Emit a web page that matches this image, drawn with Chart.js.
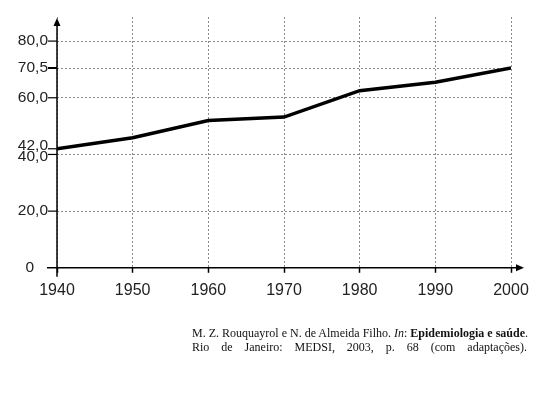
<!DOCTYPE html>
<html>
<head>
<meta charset="utf-8">
<script src="https://cdn.jsdelivr.net/npm/chart.js@4.4.0/dist/chart.umd.min.js"></script>
<style>
  html, body { margin: 0; padding: 0; background: #fff; }
  #wrap { position: relative; width: 535px; height: 416px; }
  canvas { display: block; }
  .ref {
    position: absolute; left: 192px; width: 335px;
    font-family: "Liberation Serif", "DejaVu Serif", serif;
    font-size: 12px; color: #111; line-height: 13px;
    text-align: justify; text-align-last: justify; white-space: nowrap;
  }
</style>
</head>
<body>
<div id="wrap">
  <canvas id="chart" width="535" height="416"></canvas>
  <div class="ref" style="top:327px">M. Z. Rouquayrol e N. de Almeida Filho. <i>In</i>: <b>Epidemiologia e saúde</b>.</div>
  <div class="ref" style="top:341px">Rio de Janeiro: MEDSI, 2003, p. 68 (com adaptações).</div>
</div>
<script>
// Chart data
const years = [1940, 1950, 1960, 1970, 1980, 1990, 2000];
const values = [42.0, 45.9, 52.0, 53.2, 62.5, 65.5, 70.5];
const yTicks = [0, 20, 40, 42, 60, 70.5, 80];
const yTickLabels = ['0', '20,0', '40,0', '42,0', '60,0', '70,5', '80,0'];

const FONT = '"Liberation Sans", Arial, sans-serif';

// Axis lines, arrows and y labels drawn on top of the chart area
const axesPlugin = {
    id: 'axesPlugin',
    afterDraw(chart) {
        const ctx = chart.ctx;
        const x = chart.scales.x;
        const y = chart.scales.y;
        const x0 = x.getPixelForValue(1940);
        const y0 = y.getPixelForValue(0);
        const top = chart.chartArea.top;
        ctx.save();
        ctx.strokeStyle = '#000';
        ctx.fillStyle = '#000';
        ctx.lineWidth = 1.5;

        // y axis
        ctx.beginPath();
        ctx.moveTo(x0, y0 + 9);
        ctx.lineTo(x0, top + 8);
        ctx.stroke();
        ctx.beginPath();
        ctx.moveTo(x0, top + 1);
        ctx.lineTo(x0 - 3.5, top + 9);
        ctx.lineTo(x0 + 3.5, top + 9);
        ctx.closePath();
        ctx.fill();

        // x axis
        const xr = chart.chartArea.right;
        ctx.beginPath();
        ctx.moveTo(x0 - 10, y0);
        ctx.lineTo(xr + 6, y0);
        ctx.stroke();
        ctx.beginPath();
        ctx.moveTo(xr + 13, y0);
        ctx.lineTo(xr + 5, y0 - 3.5);
        ctx.lineTo(xr + 5, y0 + 3.5);
        ctx.closePath();
        ctx.fill();

        // y tick marks and labels
        ctx.font = '15.5px ' + FONT;
        ctx.textAlign = 'right';
        ctx.textBaseline = 'middle';
        yTicks.forEach((v, i) => {
            const py = y.getPixelForValue(v);
            let lx = x0 - 9;
            if (v !== 0) {
                ctx.lineWidth = v === 70.5 ? 2 : 1.2;
                ctx.beginPath();
                ctx.moveTo(x0 - 9, py);
                ctx.lineTo(x0, py);
                ctx.stroke();
            } else {
                lx = x0 - 23;
            }
            let off = 0;
            if (v === 42) off = -3;
            if (v === 40) off = 2.5;
            ctx.fillStyle = '#222';
            ctx.fillText(yTickLabels[i], lx, py + off);
        });
        ctx.restore();
    }
};

new Chart(document.getElementById('chart'), {
    type: 'line',
    data: {
        datasets: [{
            data: years.map((yr, i) => ({ x: yr, y: values[i] })),
            borderColor: '#000',
            borderWidth: 3.5,
            pointRadius: 0,
            tension: 0,
            fill: false
        }]
    },
    options: {
        responsive: false,
        animation: false,
        layout: { padding: { left: 57, top: 17, right: 24, bottom: 108 } },
        plugins: { legend: { display: false }, tooltip: { enabled: false } },
        scales: {
            x: {
                type: 'linear',
                min: 1940,
                max: 2000,
                afterFit: axis => {
                    axis.paddingLeft = 0;
                    axis.paddingRight = 0;
                },
                border: { display: false, dash: [2, 2] },
                grid: {
                    color: '#8a8a8a',
                    lineWidth: 1,
                    drawTicks: true,
                    tickLength: 5,
                    tickColor: '#000',
                    tickBorderDash: [],
                    tickWidth: 1.5
                },
                ticks: {
                    stepSize: 10,
                    padding: 8,
                    color: '#222',
                    maxRotation: 0,
                    font: { family: FONT, size: 16 },
                    callback: v => String(v)
                }
            },
            y: {
                min: 0,
                max: 88.5,
                border: { display: false, dash: [2, 2] },
                afterBuildTicks: axis => {
                    axis.ticks = yTicks.map(v => ({ value: v }));
                },
                grid: {
                    color: c => (c.tick && (c.tick.value === 0 || c.tick.value === 42)) ? 'rgba(0,0,0,0)' : '#8a8a8a',
                    lineWidth: 1,
                    drawTicks: false
                },
                ticks: { display: false }
            }
        }
    },
    plugins: [axesPlugin]
});
</script>
</body>
</html>
